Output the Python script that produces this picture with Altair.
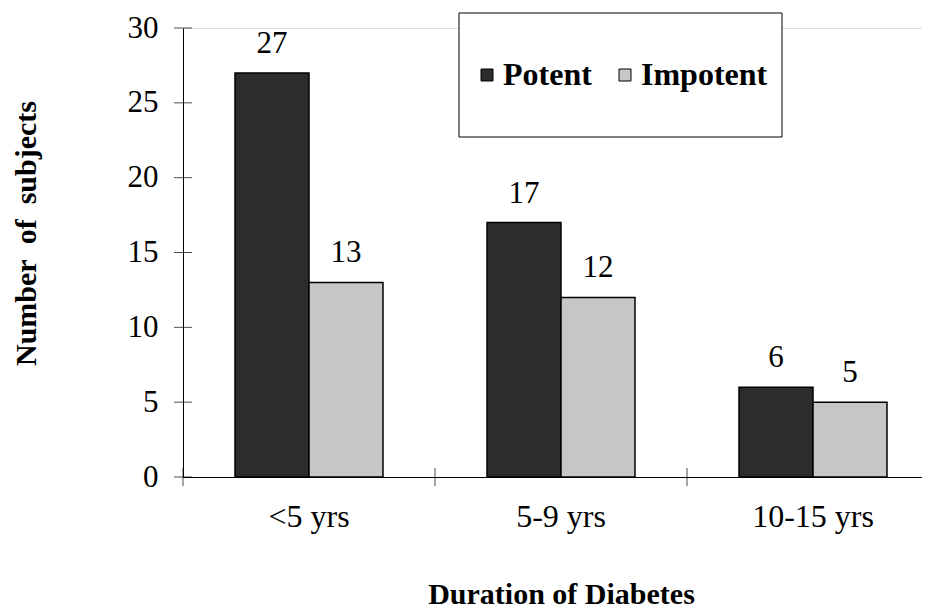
import altair as alt
import pandas as pd

categories = ["<5 yrs", "5-9 yrs", "10-15 yrs"]
groups = ["Potent", "Impotent"]
potent = [27, 17, 6]
impotent = [13, 12, 5]
y_ticks = [0, 5, 10, 15, 20, 25, 30]

rows = []
for c, p, i in zip(categories, potent, impotent):
    rows.append({"Duration": c, "Group": "Potent", "Count": p})
    rows.append({"Duration": c, "Group": "Impotent", "Count": i})
df = pd.DataFrame(rows)

FONT = "Liberation Serif"
W_RANGE = 756
W = 739
H = 449

xscale = alt.Scale(domain=categories, range=[0, W_RANGE], paddingInner=0, paddingOuter=0)
yscale = alt.Scale(domain=[0, 30], nice=False)
color_scale = alt.Scale(domain=groups, range=["#2c2c2c", "#c6c6c6"])
xoff_scale = alt.Scale(domain=groups, paddingInner=0, paddingOuter=0.703)

base = alt.Chart(df)

x_enc = alt.X(
    "Duration:N", scale=xscale, sort=categories,
    axis=alt.Axis(
        title="Duration of Diabetes", ticks=False, labelAngle=0,
        labelFont=FONT, labelFontSize=32, labelPadding=24, labelColor="black",
        titleFont=FONT, titleFontSize=30, titleFontWeight="bold", titleColor="black",
        titlePadding=47, domainColor="black", domainWidth=1, grid=False,
    ),
)
y_enc = alt.Y(
    "Count:Q", scale=yscale,
    axis=alt.Axis(
        title="Number\u00a0 of\u00a0 subjects", values=y_ticks, ticks=False,
        labelFont=FONT, labelFontSize=31, labelPadding=25, labelColor="black",
        titleFont=FONT, titleFontSize=30, titleFontWeight="bold", titleColor="black",
        titleX=-157, titleY=205, titleAngle=-90, titleBaseline="middle",
        domainColor="black", domainWidth=1, grid=False,
    ),
)

bars = base.mark_bar(stroke="black", strokeWidth=1.5).encode(
    x=x_enc,
    xOffset=alt.XOffset("Group:N", sort=groups, scale=xoff_scale),
    y=y_enc,
    color=alt.Color(
        "Group:N", scale=color_scale, sort=groups,
        legend=alt.Legend(
            title=None, orient="none", legendX=288, legendY=31, direction="horizontal",
            symbolType="square", symbolSize=144, symbolStrokeColor="black",
            symbolStrokeWidth=1, labelFont=FONT, labelFontSize=32,
            labelFontWeight="bold", labelColor="black", labelOffset=0,
            columnPadding=17, padding=0,
        ),
    ),
)

labels = base.mark_text(baseline="alphabetic", dy=-20, font=FONT, fontSize=31, color="black").encode(
    x=alt.X("Duration:N", scale=xscale, sort=categories),
    xOffset=alt.XOffset("Group:N", sort=groups, scale=xoff_scale),
    y=alt.Y("Count:Q", scale=yscale),
    text="Count:Q",
)

legend_box = alt.Chart(pd.DataFrame({"k": [0]})).mark_rect(
    fill="white", stroke="black", strokeWidth=1
).encode(
    x=alt.value(276), x2=alt.value(599), y=alt.value(-15), y2=alt.value(109)
)

ytick_df = pd.DataFrame({"Count": y_ticks})
yticks = alt.Chart(ytick_df).mark_tick(orient="horizontal", size=18, thickness=1, color="black").encode(
    x=alt.value(0),
    y=alt.Y("Count:Q", scale=yscale),
)

xtick_df = pd.DataFrame({"Duration": categories})
xticks = alt.Chart(xtick_df).mark_tick(orient="vertical", size=18, thickness=1, color="black").encode(
    x=alt.X("Duration:N", scale=xscale, sort=categories, bandPosition=0),
    y=alt.value(H),
)

chart = alt.layer(bars, labels, yticks, xticks, legend_box).properties(
    width=W, height=H,
    autosize=alt.AutoSizeParams(type="none"),
    padding={"left": 175, "top": 20, "right": 0, "bottom": 131},
).configure_view(strokeWidth=0, stroke="transparent").configure(background="white")

chart.save("out.html", embed_options={"renderer": "svg", "actions": False})
